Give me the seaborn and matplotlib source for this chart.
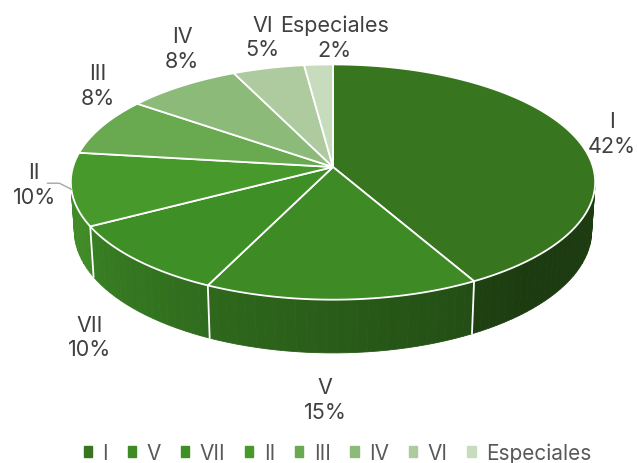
import matplotlib.pyplot as plt
import numpy as np
import seaborn as sns
from matplotlib.patches import Patch

labels = ["I", "V", "VII", "II", "III", "IV", "VI", "Especiales"]
shares = [42, 15, 10, 10, 8, 8, 5, 2]
colors = ["#37761f", "#3e8a25", "#3f8f27", "#47992b", "#69aa50", "#8cbb79", "#adcb9f", "#c6dcbc"]

# label offsets from the rim (pixels)
label_dx = [35, -17, -47, -37, -4, 0, -6, 16]
label_dy = [-6, 100, 77, -5, -41, -37, -31, -27]

sns.set_theme(style="white")
plt.rcParams["font.family"] = ["Inter", "DejaVu Sans"]

fig = plt.figure(figsize=(6.37, 4.64), dpi=100)
ax = fig.add_axes([0, 0, 1, 1])
ax.set_xlim(0, 637)
ax.set_ylim(464, 0)
ax.axis("off")

# simple perspective view of a flat cylinder
cx, cy, unit = 333, 168, 260
sin_e = 0.445
cos_e = np.sqrt(1 - sin_e ** 2)
dist = 7.0
depth = 0.21


def proj(r, t, z=0.0):
    t = np.radians(t)
    x = r * np.cos(t)
    y = r * np.sin(t)
    d = -y * cos_e + z * sin_e
    s = dist / (dist - d)
    return cx + x * s * unit, cy - (y * sin_e + z * cos_e) * s * unit


cum = np.concatenate([[0], np.cumsum(shares)])
starts = 90 - 360 * cum[:-1] / 100
ends = 90 - 360 * cum[1:] / 100
pal = sns.color_palette(colors)

# outer wall, front half only
for i in range(len(shares)):
    lo = max(ends[i], -180)
    hi = min(starts[i], 0)
    if lo >= hi:
        continue
    edges = np.linspace(hi, lo, max(2, int((hi - lo) / 2) + 1))
    for a, b in zip(edges[:-1], edges[1:]):
        m = (a + b) / 2
        f = np.clip(0.5 + (-45 - m) / 105 * 0.38, 0.5, 0.9)
        col = np.array(pal[i]) * f
        tt = np.linspace(a, b, 4)
        x1, y1 = proj(1, tt, 0)
        x2, y2 = proj(1, tt[::-1], -depth)
        ax.fill(np.r_[x1, x2], np.r_[y1, y2], color=col, lw=0.6, ec=col, zorder=1)

# slice borders on the wall
for t in np.r_[starts, ends[-1]]:
    tt = ((t + 180) % 360) - 180
    if -180 < tt < 0:
        x1, y1 = proj(1, tt, 0)
        x2, y2 = proj(1, tt, -depth)
        ax.plot([x1, x2], [y1, y2], color="white", lw=1.3, zorder=2)

# top faces
for i in range(len(shares)):
    tt = np.linspace(starts[i], ends[i], 120)
    x, y = proj(1, tt, 0)
    ax.fill(np.r_[cx, x], np.r_[cy, y], color=pal[i], ec="white", lw=1.3, zorder=3)

# data labels
for i in range(len(shares)):
    mid = (starts[i] + ends[i]) / 2
    ax_, ay_ = proj(1, mid, 0)
    lx, ly = ax_ + label_dx[i], ay_ + label_dy[i]
    ax.text(lx, ly, f"{labels[i]}\n{shares[i]}%", ha="center", va="center",
            fontsize=15.5, color="#404040", linespacing=1.3, zorder=5)
    if labels[i] == "II":
        ax.plot([ax_, ax_ - 12, ax_ - 24], [ay_, ay_ - 6, ay_ - 6],
                color="#a6a6a6", lw=1, zorder=4)

handles = [Patch(color=pal[i], label=labels[i]) for i in range(len(labels))]
ax.legend(handles=handles, loc="lower center", bbox_to_anchor=(0.53, -0.04), ncol=8,
          frameon=False, fontsize=15, handlelength=0.4, handleheight=0.4,
          handletextpad=0.5, columnspacing=0.95, labelcolor="#595959")

fig.savefig("out.png", dpi=100)
